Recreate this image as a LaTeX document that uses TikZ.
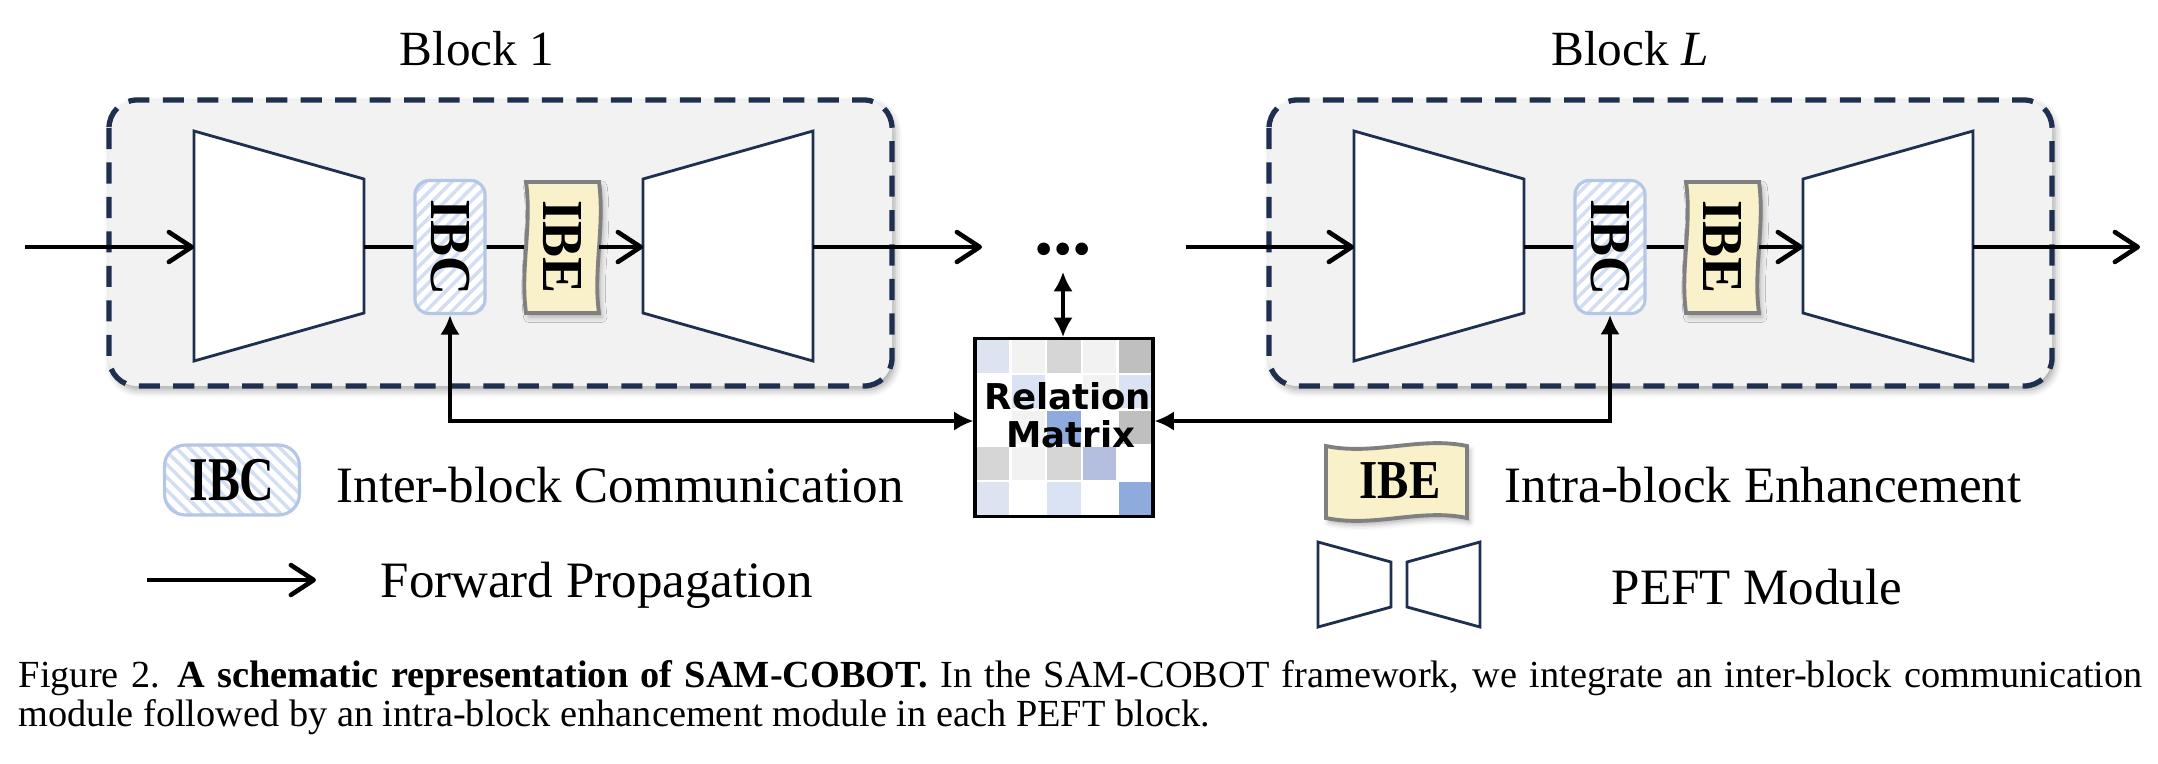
\documentclass[tikz,border=0pt]{standalone}
\usepackage{fontspec}
\setmainfont{Liberation Serif}
\newfontfamily\comicfont{DejaVu Sans}
\usetikzlibrary{arrows.meta,patterns.meta,shadows.blur,calc}
\newdimen\pxu \pxu=0.01cm
\definecolor{navy}{HTML}{1F2F4F}
\definecolor{blockfill}{HTML}{F2F2F2}
\definecolor{ibcborder}{HTML}{B4C7E7}
\definecolor{ibcstripe}{HTML}{D3DEF2}
\definecolor{ibefill}{HTML}{F8F1C9}
\definecolor{ibeborder}{HTML}{808080}
\definecolor{mA}{HTML}{DDE3F0}
\definecolor{mB}{HTML}{F2F2F2}
\definecolor{mC}{HTML}{D6D6D6}
\definecolor{mD}{HTML}{BFBFBF}
\definecolor{mE}{HTML}{DAE3F3}
\definecolor{mF}{HTML}{8FAADC}
\definecolor{mG}{HTML}{B4BFE0}
\definecolor{mW}{HTML}{FFFFFF}
\tikzset{
  blockbox/.style={draw=navy, line width=1.5pt, dash pattern=on 6pt off 3.8pt,
    fill=blockfill, rounded corners=28\pxu,
    blur shadow={shadow xshift=0.8pt, shadow yshift=-1.2pt, shadow opacity=35, shadow blur radius=2pt}},
  trap/.style={draw=navy, line width=0.8pt, fill=white, line join=miter},
  fwd/.style={line width=1.3pt, -{Straight Barb[length=6.5pt,width=8.5pt,round]}},
  fline/.style={line width=1.3pt},
  conn/.style={line width=0.9pt, {Latex[length=5.5pt,width=5.5pt]}-{Latex[length=5.5pt,width=5.5pt]}},
  ibcbox/.style={draw=ibcborder, line width=0.9pt, rounded corners=4pt, inner sep=0pt,
    preaction={fill=white},
    pattern={Lines[angle=45,distance=2.6pt,line width=1pt]}, pattern color=ibcstripe},
  ibeshape/.style={draw=ibeborder, line width=1.1pt, fill=ibefill,
    blur shadow={shadow xshift=0.8pt, shadow yshift=-1.2pt, shadow opacity=30, shadow blur radius=1.5pt}},
  legtext/.style={font=\fontsize{14.5}{17}\selectfont, inner sep=0pt},
  titletext/.style={font=\fontsize{14}{17}\selectfont, inner sep=0pt},
  captext/.style={font=\fontsize{10.9}{13}\selectfont, inner sep=0pt},
  mtext/.style={font=\comicfont\bfseries\fontsize{10.1}{12}\selectfont, inner sep=0pt},
}
\newcommand\blkfont{\fontsize{16.5}{19}\selectfont\bfseries}
\begin{document}
\begin{tikzpicture}[x=0.01cm,y=-0.01cm]
\useasboundingbox (0,0) rectangle (2158,763);

% ---- blocks ----
\foreach \dx/\s in {0/1,1160/L}{
\begin{scope}[xshift=\dx\pxu]
  \draw[blockbox] (109,100) rectangle (892,386);
  \draw[trap] (194,131) -- (364,179) -- (364,313) -- (194,361) -- cycle;
  \coordinate (tl\s) at (194,247);
  \coordinate (tr\s) at (364,247);
  \draw[trap] (643,179) -- (813,131) -- (813,361) -- (643,313) -- cycle;
  \coordinate (ul\s) at (643,247);
  \coordinate (ur\s) at (813,247);
  \draw[fline] (tr\s) -- (450,247);
  \draw[fline] (450,247) -- (562,247);
  \node[ibcbox, minimum width=70\pxu, minimum height=133\pxu] (ibc\s) at (450,247)
     {\rotatebox{-90}{\blkfont\scalebox{0.93}[1]{IBC}}};
  \draw[ibeshape] (526,182) .. controls (532,226) and (520,270) .. (526,313)
     -- (599,313) .. controls (593,270) and (605,226) .. (599,182) -- cycle;
  \node[inner sep=0pt, minimum width=73\pxu, minimum height=131\pxu] (ibe\s) at (562,247)
     {\rotatebox{-90}{\blkfont\scalebox{0.93}[1]{IBE}}};
  \draw[fwd] (ibe\s) -- (ul\s);
\end{scope}
}

% ---- titles ----
\node[titletext, anchor=base] (title1) at (477,65) {Block 1};
\node[titletext, anchor=base] (titleL) at (1630,65) {Block \textit{L}};

% ---- forward arrows ----
\coordinate (in1) at (25,247);
\coordinate (out1) at (982,247);
\coordinate (inL) at (1186,247);
\coordinate (outL) at (2140,247);
\draw[fwd] (in1) -- (tl1);
\draw[fwd] (ur1) -- (out1);
\draw[fwd] (inL) -- (tlL);
\draw[fwd] (urL) -- (outL);

\node[anchor=base, inner sep=0pt, font=\fontsize{22}{26}\selectfont\bfseries] (dots) at (1063,254) {...};

% ---- relation matrix ----
\foreach \c/\r/\col in {
  0/0/mA,1/0/mB,2/0/mC,3/0/mB,4/0/mD,
  0/1/mW,1/1/mE,2/1/mW,3/1/mB,4/1/mE,
  0/2/mW,1/2/mB,2/2/mF,3/2/mW,4/2/mD,
  0/3/mC,1/3/mB,2/3/mC,3/3/mG,4/3/mW,
  0/4/mA,1/4/mW,2/4/mE,3/4/mW,4/4/mF}{
  \fill[\col] ({975+35.6*\c},{338.5+35.6*\r}) rectangle ++(35.6,35.6);
}
\foreach \i in {1,2,3,4}{
  \draw[white, line width=0.7pt] ({975+35.6*\i},338.5) -- ++(0,178);
  \draw[white, line width=0.7pt] (975,{338.5+35.6*\i}) -- ++(178,0);
}
\node[draw=black, line width=0.9pt, minimum size=178\pxu, inner sep=0pt] (rm) at (1064,427.5) {};
\node[mtext, anchor=base] (rel) at (1068,409) {Relation};
\node[mtext, anchor=base] (mat) at (1071,447) {Matrix};

\coordinate (hy) at (0,421);
\coordinate (dd) at (1063,272);
\draw[conn] (ibc1.south) |- (rm.west |- hy);
\draw[conn] (ibcL.south) |- (rm.east |- hy);
\draw[conn] (dd) -- (dd |- rm.north);

% ---- legend ----
\node[ibcbox, pattern={Lines[angle=-45,distance=2.6pt,line width=1pt]},
      minimum width=135\pxu, minimum height=70\pxu, rounded corners=6pt] (libc) at (232,480)
      {\scalebox{0.77}[1]{\fontsize{17.7}{20}\selectfont\bfseries IBC}};
\node[legtext, anchor=base west] (libct) at (336,502) {Inter-block Communication};

\coordinate (fa) at (147,580);
\coordinate (fb) at (316,580);
\draw[fwd] (fa) -- (fb);
\node[legtext, anchor=base west] (lfwd) at (380,597) {Forward Propagation};

\draw[ibeshape] (1326,446) .. controls (1374,456) and (1420,436) .. (1467,446)
   -- (1467,518) .. controls (1420,508) and (1374,528) .. (1326,518) -- cycle;
\node[inner sep=0pt] (libe) at (1400,481) {\scalebox{0.855}[1]{\fontsize{15.6}{18}\selectfont\bfseries IBE}};
\node[legtext, anchor=base west] (libet) at (1504,502) {Intra-block Enhancement};

\draw[trap] (1318,542) -- (1391,562) -- (1391,607) -- (1318,627) -- cycle;
\draw[trap] (1407,562) -- (1480,542) -- (1480,627) -- (1407,607) -- cycle;
\node[legtext, anchor=base west] (lpeft) at (1611,604) {PEFT Module};

% ---- caption ----
\node[captext, anchor=base west] (cap1) at (18,687)
  {\makebox[2124\pxu][s]{Figure 2.\hspace{0.45em}\textbf{A schematic representation of SAM-COBOT.} In the SAM-COBOT framework, we integrate an inter-block communication}};
\node[captext, anchor=base west] (cap2) at (18,726)
  {module followed by an intra-block enhancement module in each PEFT block.};
\end{tikzpicture}
\end{document}
